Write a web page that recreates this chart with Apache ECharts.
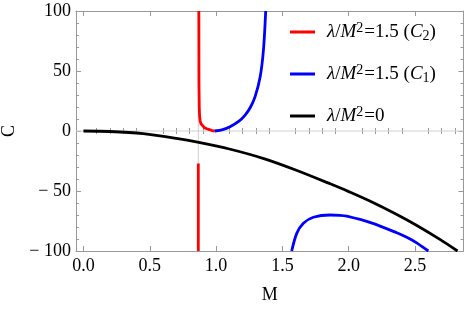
<!DOCTYPE html>
<html>
<head>
<meta charset="utf-8">
<script src="https://cdn.jsdelivr.net/npm/echarts@6/dist/echarts.min.js"></script>
<style>html,body{margin:0;padding:0;background:#fff}#c{width:471px;height:309px}</style>
</head>
<body>
<div id="c"></div>
<script>
// ---- data ----
const blackM = [0, 0.2, 0.45, 0.7, 0.87, 1.1, 1.36, 1.6, 1.86, 2.0, 2.19, 2.44, 2.69, 2.82];
const blackC = [0, -0.4, -2.2, -6.1, -9.5, -15, -23, -32.5, -44, -50.5, -60, -74.2, -90.5, -100];

const redUpM = [0.870, 0.871, 0.873, 0.876, 0.880, 0.886, 0.895, 0.91, 0.93, 0.95, 0.97, 0.99];
const redUpC = [100, 40, 20, 12, 8.5, 6, 4.5, 3, 1.9, 1.1, 0.4, 0];
const redLowM = [0.866, 0.866];
const redLowC = [-27, -100];

const blueUpM = [0.99, 1.05, 1.105, 1.17, 1.219, 1.26, 1.294, 1.332, 1.357, 1.374];
const blueUpC = [0, 1.2, 3.6, 8, 13.3, 20, 28.6, 45, 67.5, 100];
const blueLowM = [1.570, 1.608, 1.658, 1.733, 1.859, 1.934, 1.985, 2.17, 2.362, 2.437, 2.512, 2.6];
const blueLowC = [-100, -85.3, -76.9, -71.9, -70, -70.3, -71.0, -76.5, -84.8, -88.6, -93.2, -100];

const xMajor = [0, 0.5, 1.0, 1.5, 2.0, 2.5];
const xMinor = [0.1,0.2,0.3,0.4,0.6,0.7,0.8,0.9,1.1,1.2,1.3,1.4,1.6,1.7,1.8,1.9,2.1,2.2,2.3,2.4,2.6,2.7,2.8];
const yTicks = [-100, -50, 0, 50, 100];

const asymptoteM = 0.866;
const zeroC = 0;
const legendNames = ['C2', 'C1', 'L0'];

const zip = (a, b) => a.map((v, i) => [v, b[i]]);

const serif = "'Liberation Serif', 'Times New Roman', 'DejaVu Serif', serif";
const frameColor = '#999';
const X_MIN = -0.056, X_MAX = 2.865;

const baseX = {
  type: 'value', min: X_MIN, max: X_MAX,
  splitLine: {show: false},
  axisLine: {show: false},
  axisLabel: {show: false},
  axisTick: {show: false}
};
const xAxes = [
  Object.assign({}, baseX, {
    position: 'bottom',
    axisLine: {show: true, onZero: false, lineStyle: {color: frameColor, width: 1}},
    axisTick: {show: true, inside: true, length: 5, customValues: xMajor, lineStyle: {color: frameColor}},
    axisLabel: {show: true, customValues: xMajor, margin: 6, color: '#000', fontFamily: serif, fontSize: 18,
      formatter: v => v.toFixed(1)},
    name: 'M', nameLocation: 'middle', nameGap: 35,
    nameTextStyle: {color: '#000', fontFamily: serif, fontSize: 18}
  }),
  Object.assign({}, baseX, {
    position: 'bottom',
    axisTick: {show: true, inside: true, length: 3, customValues: xMinor, lineStyle: {color: frameColor}}
  }),
  Object.assign({}, baseX, {
    position: 'top',
    axisLine: {show: true, onZero: false, lineStyle: {color: frameColor, width: 1}},
    axisTick: {show: true, inside: true, length: 5, customValues: xMajor, lineStyle: {color: frameColor}}
  }),
  Object.assign({}, baseX, {
    position: 'top',
    axisTick: {show: true, inside: true, length: 3, customValues: xMinor, lineStyle: {color: frameColor}}
  })
];

const fmtY = v => v < 0 ? '\u2212 ' + Math.abs(v) : String(v);
const baseY = {
  type: 'value', min: -100, max: 100, interval: 50,
  splitLine: {show: false},
  axisLine: {show: true, onZero: false, lineStyle: {color: frameColor, width: 1}},
  axisTick: {show: true, inside: true, length: 5, lineStyle: {color: frameColor}},
  minorTick: {show: true, splitNumber: 5, length: 3, lineStyle: {color: frameColor}}
};
const yAxes = [
  Object.assign({}, baseY, {
    position: 'left',
    axisLabel: {show: true, margin: 5, color: '#000', fontFamily: serif, fontSize: 18, formatter: fmtY},
    name: 'C', nameLocation: 'middle', nameGap: 51, nameRotate: 90,
    nameTextStyle: {color: '#000', fontFamily: serif, fontSize: 18}
  }),
  Object.assign({}, baseY, {position: 'right', axisLabel: {show: false}})
];

const lineW = 2.8;
function curve(name, data, color, smooth) {
  return {type: 'line', name: name, data: data, showSymbol: false, symbol: 'none',
    smooth: smooth, lineStyle: {color: color, width: lineW}, itemStyle: {color: color},
    xAxisIndex: 0, yAxisIndex: 0, z: 3, silent: true, animation: false};
}
function refLine(data) {
  return {type: 'line', name: '_ref', data: data, showSymbol: false, symbol: 'none',
    lineStyle: {color: '#cfcfcf', width: 1}, xAxisIndex: 0, yAxisIndex: 0, z: 1, silent: true, animation: false};
}

const legendText = {
  C2: '{i|λ}{n|/}{i|M}{sup|2}{n|=1.5 (}{i|C}{sub|2}{n|)}',
  C1: '{i|λ}{n|/}{i|M}{sup|2}{n|=1.5 (}{i|C}{sub|1}{n|)}',
  L0: '{i|λ}{n|/}{i|M}{sup|2}{n|=0}'
};

const option = {
  animation: false,
  grid: {left: 76, right: 7.5, top: 11, bottom: 58, containLabel: false, outerBoundsMode: 'none'},
  xAxis: xAxes,
  yAxis: yAxes,
  legend: {
    data: legendNames,
    orient: 'vertical',
    left: 290, top: 21, padding: 0,
    itemWidth: 25, itemHeight: 3, itemGap: 20,
    icon: 'rect',
    formatter: n => legendText[n],
    textStyle: {
      color: '#000', fontFamily: serif, fontSize: 19, padding: [0, 0, 0, 7],
      rich: {
        n: {fontFamily: serif, fontSize: 19, color: '#000', lineHeight: 22},
        i: {fontFamily: serif, fontSize: 19, fontStyle: 'italic', color: '#000', lineHeight: 22},
        sup: {fontFamily: serif, fontSize: 14, color: '#000', verticalAlign: 'top', lineHeight: 14, padding: [0, 1, 0, 0]},
        sub: {fontFamily: serif, fontSize: 14, color: '#000', verticalAlign: 'bottom', lineHeight: 14}
      }
    },
    selectedMode: false
  },
  series: [
    refLine([[X_MIN, zeroC], [X_MAX, zeroC]]),
    refLine([[asymptoteM, -100], [asymptoteM, 100]]),
    curve('C2', zip(redUpM, redUpC), '#ff0000', false),
    curve('C2', zip(redLowM, redLowC), '#ff0000', false),
    curve('C1', zip(blueUpM, blueUpC), '#0000ff', 0.3),
    curve('C1', zip(blueLowM, blueLowC), '#0000ff', 0.3),
    curve('L0', zip(blackM, blackC), '#000000', 0.3)
  ]
};

const chart = echarts.init(document.getElementById('c'), null, {renderer: 'canvas'});
chart.setOption(option);
</script>
</body>
</html>
